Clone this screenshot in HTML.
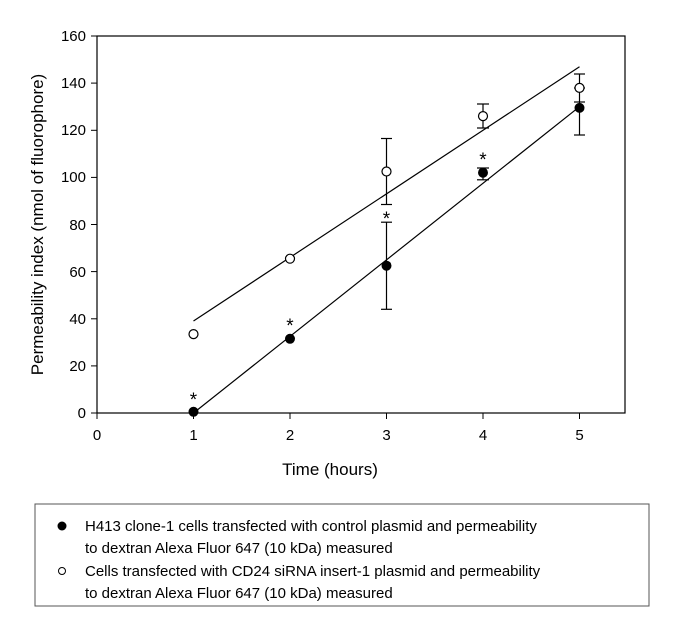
<!DOCTYPE html>
<html><head><style>body{margin:0;background:#fff}</style></head><body>
<svg width="685" height="639" xmlns="http://www.w3.org/2000/svg" font-family="Liberation Sans, sans-serif">
<rect width="685" height="639" fill="#fff"/>
<rect x="97" y="36" width="528" height="377" fill="none" stroke="#000" stroke-width="1.2"/>
<g stroke="#000" stroke-width="1">
<line x1="97" y1="413" x2="97" y2="419"/><line x1="193.5" y1="413" x2="193.5" y2="419"/><line x1="290" y1="413" x2="290" y2="419"/><line x1="386.5" y1="413" x2="386.5" y2="419"/><line x1="483" y1="413" x2="483" y2="419"/><line x1="579.5" y1="413" x2="579.5" y2="419"/>
<line x1="91" y1="413" x2="97" y2="413"/><line x1="91" y1="365.9" x2="97" y2="365.9"/><line x1="91" y1="318.8" x2="97" y2="318.8"/><line x1="91" y1="271.6" x2="97" y2="271.6"/><line x1="91" y1="224.5" x2="97" y2="224.5"/><line x1="91" y1="177.4" x2="97" y2="177.4"/><line x1="91" y1="130.3" x2="97" y2="130.3"/><line x1="91" y1="83.1" x2="97" y2="83.1"/><line x1="91" y1="36" x2="97" y2="36"/>
</g>
<g font-size="15" text-anchor="middle">
<text x="97" y="440">0</text><text x="193.5" y="440">1</text><text x="290" y="440">2</text><text x="386.5" y="440">3</text><text x="483" y="440">4</text><text x="579.5" y="440">5</text>
</g>
<g font-size="15" text-anchor="end">
<text x="86" y="418">0</text><text x="86" y="371">20</text><text x="86" y="324">40</text><text x="86" y="277">60</text><text x="86" y="230">80</text><text x="86" y="182">100</text><text x="86" y="135">120</text><text x="86" y="88">140</text><text x="86" y="41">160</text>
</g>
<text x="330" y="475" font-size="17" text-anchor="middle">Time (hours)</text>
<text transform="translate(43,224.5) rotate(-90)" font-size="17" text-anchor="middle">Permeability index (nmol of fluorophore)</text>
<g stroke="#000" stroke-width="1.2" fill="none">
<line x1="193.5" y1="413" x2="579.5" y2="106.7"/>
<line x1="193.5" y1="321" x2="579.5" y2="66.7"/>
<line x1="386.5" y1="204.5" x2="386.5" y2="138.5"/><line x1="381" y1="204.5" x2="392" y2="204.5"/><line x1="381" y1="138.5" x2="392" y2="138.5"/>
<line x1="386.5" y1="309.3" x2="386.5" y2="222.2"/><line x1="381" y1="309.3" x2="392" y2="309.3"/><line x1="381" y1="222.2" x2="392" y2="222.2"/>
<line x1="483" y1="128" x2="483" y2="104"/><line x1="477" y1="128" x2="489" y2="128"/><line x1="477" y1="104" x2="489" y2="104"/>
<line x1="483" y1="179.8" x2="483" y2="168"/><line x1="477" y1="179.8" x2="489" y2="179.8"/><line x1="477" y1="168" x2="489" y2="168"/>
<line x1="579.5" y1="135" x2="579.5" y2="74"/><line x1="574" y1="135" x2="585" y2="135"/><line x1="574" y1="74" x2="585" y2="74"/><line x1="574" y1="102" x2="585" y2="102"/><line x1="574" y1="88" x2="585" y2="88"/>
</g>
<g fill="#000">
<circle cx="193.5" cy="411.8" r="5"/><circle cx="290" cy="338.8" r="5"/><circle cx="386.5" cy="265.7" r="5"/><circle cx="483" cy="172.7" r="5"/><circle cx="579.5" cy="107.9" r="5"/>
</g>
<g fill="#fff" stroke="#000" stroke-width="1.2">
<circle cx="193.5" cy="334.1" r="4.5"/><circle cx="290" cy="258.7" r="4.5"/><circle cx="386.5" cy="171.5" r="4.5"/><circle cx="483" cy="116.1" r="4.5"/><circle cx="579.5" cy="87.9" r="4.5"/>
</g>
<g font-size="19" text-anchor="middle">
<text x="193.5" y="406">*</text><text x="290" y="332">*</text><text x="386.5" y="225">*</text><text x="483" y="166">*</text>
</g>
<rect x="35" y="504" width="614" height="102" fill="none" stroke="#555" stroke-width="1"/>
<circle cx="62" cy="526" r="4.5" fill="#000"/>
<circle cx="62" cy="571" r="3.5" fill="#fff" stroke="#000" stroke-width="1"/>
<g font-size="15">
<text x="85" y="531">H413 clone-1 cells transfected with control plasmid and permeability</text>
<text x="85" y="553">to dextran Alexa Fluor 647 (10 kDa) measured</text>
<text x="85" y="576">Cells transfected with CD24 siRNA insert-1 plasmid and permeability</text>
<text x="85" y="598">to dextran Alexa Fluor 647 (10 kDa) measured</text>
</g>
</svg>
</body></html>
